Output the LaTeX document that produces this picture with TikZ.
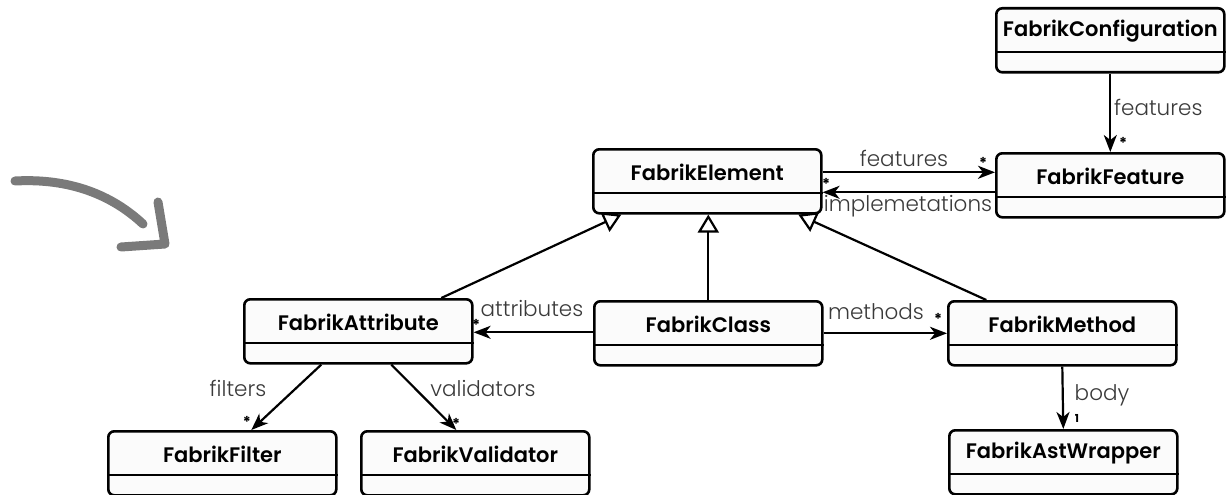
\documentclass[tikz,border=0pt]{standalone}
\usepackage{fontspec}
\setmainfont{Poppins}
\newfontfamily\namefont{Poppins SemiBold}
\newfontfamily\rolefont{Poppins Light}
\usetikzlibrary{arrows.meta,calc}
\definecolor{lbl}{HTML}{3A3A3A}
\definecolor{hand}{HTML}{7A7A7A}
\definecolor{boxfill}{HTML}{FBFBFB}
\tikzset{
  umlbox/.style={draw, line width=2.6pt, rounded corners=6pt, fill=boxfill,
    minimum width=228pt, minimum height=64pt, inner sep=0pt},
  assoc/.style={draw, line width=2.2pt, -{Stealth[length=17pt,width=13pt,inset=5pt]}},
  inherit/.style={draw, line width=2.2pt, -{Triangle[open,length=18pt,width=21pt,fill=white]}},
  rolelabel/.style={text=lbl, font=\rolefont\fontsize{21.5}{21.5}\selectfont, inner sep=0pt},
  mult/.style={font=\bfseries\fontsize{15}{15}\selectfont, inner sep=0pt},
  clsname/.style={font=\namefont\fontsize{21}{21}\selectfont, inner sep=0pt},
}
% a class box: name, left x, top y, title
\newcommand\umlclass[4]{%
  \node[umlbox, anchor=north west] (#1) at (#2,#3) {};
  \draw[line width=2.6pt] ([yshift=-45pt]#1.north west) -- ([yshift=-45pt]#1.north east);
  \node[clsname] (#1-t) at ([yshift=-24pt]#1.north) {#4};
}
\begin{document}
\begin{tikzpicture}[x=1pt,y=-1pt]
\useasboundingbox (0,0) rectangle (1231,495);

% hand-drawn pointer
\draw[hand, line width=9pt, line cap=round, line join=round]
  (15,181) .. controls (70,178) and (112,195) .. (143,224);
\draw[hand, line width=9pt, line cap=round, line join=round]
  (158,202) -- (165,244) -- (121,247);

\umlclass{conf}{995}{7}{FabrikConfiguration}
\umlclass{feat}{995}{152}{FabrikFeature}
\umlclass{elem}{592}{148}{FabrikElement}
\umlclass{attr}{243}{298}{FabrikAttribute}
\umlclass{cls}{593}{300}{FabrikClass}
\umlclass{meth}{947}{300}{FabrikMethod}
\umlclass{filt}{107}{430}{FabrikFilter}
\umlclass{vali}{360}{430}{FabrikValidator}
\umlclass{ast}{948}{429}{FabrikAstWrapper}

% generalizations
\draw[inherit] ([xshift=83pt]attr.north) -- ([xshift=-86pt]elem.south);
\draw[inherit] (cls.north) -- (cls.north |- elem.south);
\draw[inherit] ([xshift=-76pt]meth.north) -- ([xshift=91pt]elem.south);

% associations
\draw[assoc] (conf.south) -- (feat.north);
\draw[assoc] ([yshift=9pt]elem.east) -- ([yshift=13pt]feat.west);
\draw[assoc] ([yshift=-7pt]feat.west) -- ([yshift=-11pt]elem.east);
\draw[assoc] ([yshift=1pt]cls.west) -- ([yshift=-1pt]attr.east);
\draw[assoc] (cls.east) -- (meth.west);
\draw[assoc] ([xshift=-37pt]attr.south) -- ([xshift=29pt]filt.north);
\draw[assoc] ([xshift=33pt]attr.south) -- ([xshift=-19pt]vali.north);
\draw[assoc] (meth.south) -- (ast.north);

% role names
\node[rolelabel, anchor=west] (l-cf) at (1114,107) {features};
\node[rolelabel] (l-ef) at (904,158) {features};
\node[rolelabel] (l-fe) at (908,206) {implemetations};
\node[rolelabel] (l-ca) at (532,309) {attributes};
\node[rolelabel] (l-cm) at (876,312) {methods};
\node[rolelabel] (l-af) at (238,388) {filters};
\node[rolelabel] (l-av) at (483,388) {validators};
\node[rolelabel] (l-mb) at (1102,395) {body};

% multiplicities
\node[mult] (m-cf) at (1123,143) {*};
\node[mult] (m-ef) at (983,163) {*};
\node[mult] (m-fe) at (826,184) {*};
\node[mult] (m-ca) at (476,325) {*};
\node[mult] (m-cm) at (938,319) {*};
\node[mult] (m-af) at (247,422) {*};
\node[mult] (m-av) at (456,424) {*};
\node[mult, font=\bfseries\fontsize{11}{11}\selectfont] (m-mb) at (1077,418) {1};
\end{tikzpicture}
\end{document}
